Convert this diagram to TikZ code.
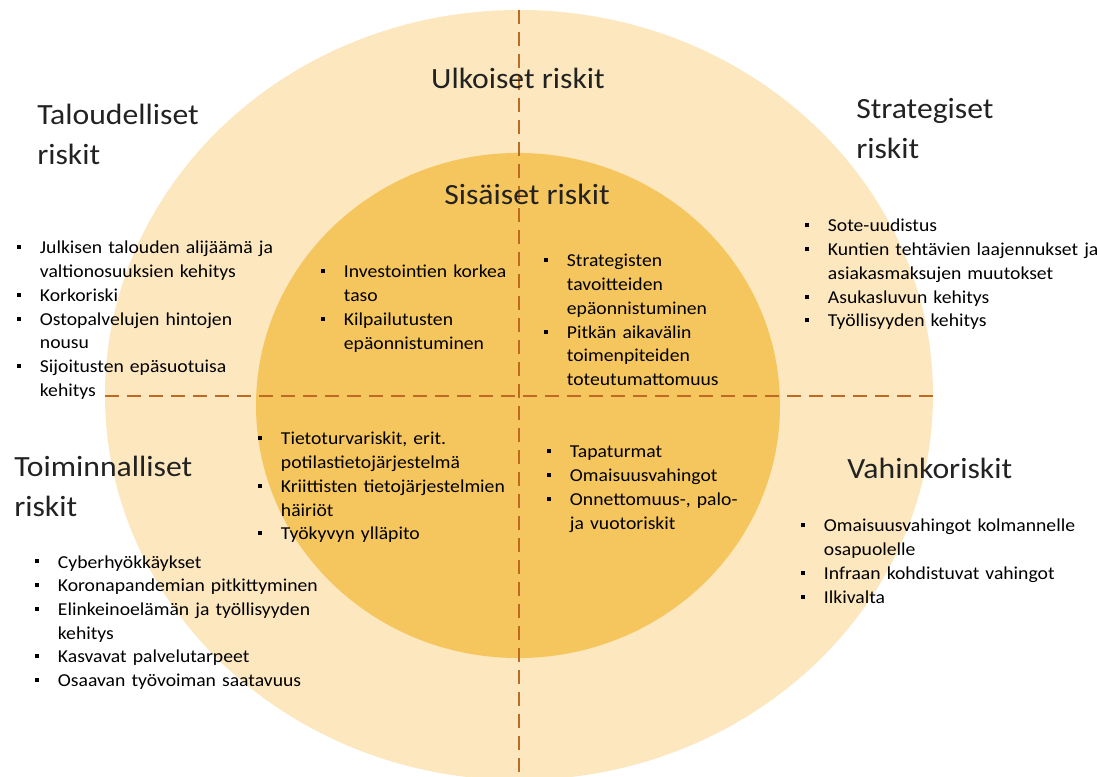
\documentclass[tikz,border=0pt]{standalone}
\usepackage{fontspec}
\setmainfont{Carlito}[FakeStretch=1.08]
\definecolor{outerc}{HTML}{FCE7BE}
\definecolor{innerc}{HTML}{F6C65E}
\definecolor{dashc}{HTML}{BF6A22}
\definecolor{headcol}{HTML}{222222}
\newcommand\itm[1]{\noindent\hangindent=17pt\hangafter=1\makebox[17pt][l]{\rule[3.5pt]{3pt}{3pt}}#1\par}
\tikzset{
  heading/.style={anchor=base west, inner sep=0pt, text width=300pt, align=left, text=headcol, font=\fontsize{22pt}{29.6pt}\selectfont},
  headingc/.style={anchor=base, inner sep=0pt, text=headcol, font=\fontsize{22pt}{29.6pt}\selectfont},
  blist/.style={anchor=base west, inner sep=0pt, align=left, text=black, font=\fontsize{13.65pt}{17.8pt}\selectfont},
  divider/.style={draw=dashc, line width=1.5pt, dash pattern=on 10.5pt off 6pt}
}
\begin{document}
\begin{tikzpicture}[x=0.75pt, y=-0.75pt]
\useasboundingbox (0,0) rectangle (1097,777);
\clip (0,0) rectangle (1097,777);
% circles
\fill[outerc] (519,395) ellipse [x radius=310.5pt, y radius=288.75pt];
\fill[innerc] (518,405.5) ellipse [x radius=196.5pt, y radius=189.4pt];
% dividers
\coordinate (vtop) at (519,10);
\coordinate (vbot) at (519,777);
\coordinate (hl) at (105,396);
\coordinate (hr) at (933,396);
\draw[divider] (vtop) -- (vbot);
\draw[divider] (hl) -- (hr);
% headings
\node[headingc] (ulk) at (518,89) {Ulkoiset riskit};
\node[headingc] (sis) at (527,205) {Sisäiset riskit};
\node[heading] (tal) at (37,125) {Taloudelliset\\riskit};
\node[heading] (str) at (856,119) {Strategiset\\riskit};
\node[heading] (toi) at (14,477) {Toiminnalliset\\riskit};
\node[heading] (vah) at (847,479) {Vahinkoriskit};
% lists
\node[blist, text width=240pt] (tlo) at (17,254) {\itm{Julkisen talouden alijäämä ja\newline valtionosuuksien kehitys}\itm{Korkoriski}\itm{Ostopalvelujen hintojen\newline nousu}\itm{Sijoitusten epäsuotuisa\newline kehitys}};
\node[blist, text width=200pt] (tli) at (321,278) {\itm{Investointien korkea\newline taso}\itm{Kilpailutusten\newline epäonnistuminen}};
\node[blist, text width=200pt] (tri) at (544,267) {\itm{Strategisten\newline tavoitteiden\newline epäonnistuminen}\itm{Pitkän aikavälin\newline toimenpiteiden\newline toteutumattomuus}};
\node[blist, text width=240pt] (tro) at (805,232) {\itm{Sote-uudistus}\itm{Kuntien tehtävien laajennukset ja\newline asiakasmaksujen muutokset}\itm{Asukasluvun kehitys}\itm{Työllisyyden kehitys}};
\node[blist, text width=240pt] (bli) at (258,445) {\itm{Tietoturvariskit, erit.\newline potilastietojärjestelmä}\itm{Kriittisten tietojärjestelmien\newline häiriöt}\itm{Työkyvyn ylläpito}};
\node[blist, text width=260pt] (blo) at (35,568) {\itm{Cyberhyökkäykset}\itm{Koronapandemian pitkittyminen}\itm{Elinkeinoelämän ja työllisyyden\newline kehitys}\itm{Kasvavat palvelutarpeet}\itm{Osaavan työvoiman saatavuus}};
\node[blist, text width=200pt] (bri) at (547,458) {\itm{Tapaturmat}\itm{Omaisuusvahingot}\itm{Onnettomuus-, palo-\newline ja vuotoriskit}};
\node[blist, text width=240pt] (bro) at (801,532) {\itm{Omaisuusvahingot kolmannelle\newline osapuolelle}\itm{Infraan kohdistuvat vahingot}\itm{Ilkivalta}};
\end{tikzpicture}
\end{document}
